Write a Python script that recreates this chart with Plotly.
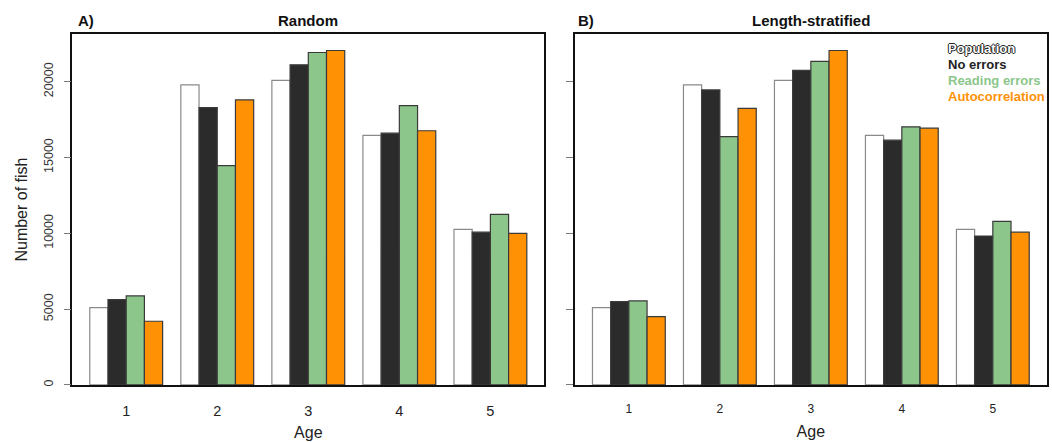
import plotly.graph_objects as go

# Age classes on the x axis
ages = ["1", "2", "3", "4", "5"]

# Estimated number of fish per age class
population = [5100, 19780, 20080, 16450, 10260]

random_no_errors = [5620, 18290, 21110, 16600, 10070]
random_reading = [5870, 14460, 21920, 18420, 11250]
random_autocorr = [4200, 18790, 22050, 16760, 10000]

strat_no_errors = [5490, 19450, 20740, 16140, 9820]
strat_reading = [5540, 16370, 21330, 17020, 10790]
strat_autocorr = [4510, 18240, 22050, 16930, 10070]

series_names = ["Population", "No errors", "Reading errors", "Autocorrelation"]
fill_colors = ["#ffffff", "#2b2b2b", "#8cc68a", "#ff9105"]
edge_colors = ["#8a8a8a", "#3a3a3a", "#3a3a3a", "#3a3a3a"]

y_ticks = [0, 5000, 10000, 15000, 20000]
y_tick_labels = ["0", "5000", "10000", "15000", "20000"]
y_max = 23130

W, H = 1052, 442
FONT = "Liberation Sans, Arial, sans-serif"

panels = [
    ("x", "y", [population, random_no_errors, random_reading, random_autocorr]),
    ("x2", "y2", [population, strat_no_errors, strat_reading, strat_autocorr]),
]

fig = go.Figure()
for xa, ya, values in panels:
    for name, vals, fc, ec in zip(series_names, values, fill_colors, edge_colors):
        fig.add_trace(go.Bar(
            x=ages, y=vals, name=name, xaxis=xa, yaxis=ya,
            marker=dict(color=fc, line=dict(color=ec, width=1.2)),
            showlegend=False, hoverinfo="x+y+name",
        ))

# panel boxes in pixel terms, converted to paper fractions
left_dom = [72.3 / W, 544.3 / W]
right_dom = [575.0 / W, 1046.7 / W]
y_dom = [1 - 386.7 / H, 1 - 34.3 / H]

x_range = [-0.592, 4.592]

common_x = dict(
    range=x_range, type="category", showline=True, mirror=True,
    linecolor="#111111", linewidth=1.5, ticks="", showgrid=False,
    zeroline=False, ticklabelstandoff=12,
)
common_y = dict(
    range=[0, y_max], showline=True, mirror=True, linecolor="#111111",
    linewidth=1.5, ticks="outside", ticklen=7, tickcolor="#7a7a7a",
    tickwidth=1.2, tickvals=y_ticks, ticktext=y_tick_labels,
    showgrid=False, zeroline=False,
)

fig.update_layout(
    width=W, height=H, margin=dict(l=0, r=0, t=0, b=0),
    paper_bgcolor="white", plot_bgcolor="white",
    barmode="group", bargap=0.2, bargroupgap=0,
    font=dict(family=FONT, color="#222222"),
    xaxis=dict(domain=left_dom, anchor="y", **common_x,
               tickfont=dict(size=14.5, color="#222222"),
               title=dict(text="Age", font=dict(size=16), standoff=9)),
    xaxis2=dict(domain=right_dom, anchor="y2", **common_x,
                tickfont=dict(size=12, color="#222222"),
                title=dict(text="Age", font=dict(size=16), standoff=11)),
    yaxis=dict(domain=y_dom, anchor="x", **common_y,
               tickangle=-90, tickfont=dict(size=12.5, color="#333333"),
               ticklabelstandoff=6,
               title=dict(text="Number of fish", font=dict(size=16), standoff=10)),
    yaxis2=dict(domain=y_dom, anchor="x2", **common_y, showticklabels=False),
)

# panel letters and titles
top_y = 1 - 20.5 / H
titles = [
    ("A)", 76 / W, "left"),
    ("Random", (left_dom[0] + left_dom[1]) / 2, "center"),
    ("B)", 576 / W, "left"),
    ("Length-stratified", (right_dom[0] + right_dom[1]) / 2, "center"),
]
for text, xp, anchor in titles:
    fig.add_annotation(
        text=f"<b>{text}</b>", x=xp, y=top_y, xref="paper", yref="paper",
        xanchor=anchor, yanchor="middle", showarrow=False,
        font=dict(size=15, color="#111111", family=FONT),
    )

# legend written as coloured text
legend_text_colors = ["#ffffff", "#222222", "#8cc68a", "#ff9105"]
outline = "1px 0 0 #222, -1px 0 0 #222, 0 1px 0 #222, 0 -1px 0 #222"
for i, (name, col) in enumerate(zip(series_names, legend_text_colors)):
    fig.add_annotation(
        text=f"<b>{name}</b>", x=946 / W, y=1 - (49 + i * 15.9) / H,
        xref="paper", yref="paper", xanchor="left", yanchor="middle",
        showarrow=False,
        font=dict(size=13, color=col, family=FONT,
                  shadow=outline if i == 0 else "none"),
    )

fig.write_html("out.html")
